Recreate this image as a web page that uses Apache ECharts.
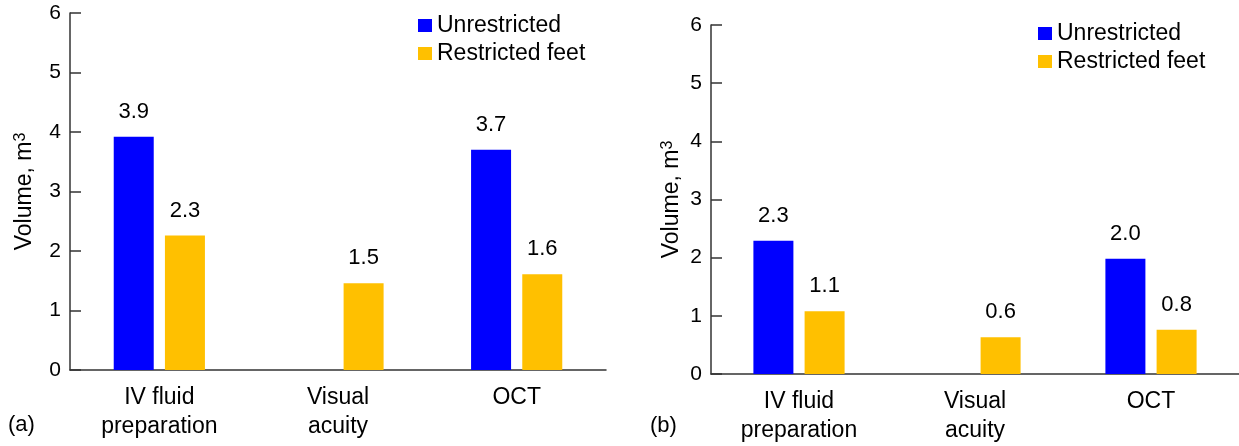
<!DOCTYPE html>
<html><head><meta charset="utf-8">
<script src="https://cdn.jsdelivr.net/npm/echarts@6/dist/echarts.min.js"></script>
<style>html,body{margin:0;padding:0;background:#fff}#c{width:1239px;height:446px}</style>
</head><body><div id="c"></div>
<script>
const categories = ['IV fluid\npreparation', 'Visual\nacuity', 'OCT'];
const seriesNames = ['Unrestricted', 'Restricted feet'];
const unrestrictedA = [3.92, null, 3.70];
const restrictedA = [2.26, 1.46, 1.61];
const unrestrictedB = [2.29, null, 1.98];
const restrictedB = [1.08, 0.63, 0.76];
const yTicks = [0, 1, 2, 3, 4, 5, 6];
const panelLabels = ['(a)', '(b)'];

const FONT = 'Liberation Sans, Arial, sans-serif';
const BLUE = '#0000FF', GOLD = '#FFC000';
const chart = echarts.init(document.getElementById('c'), null, {renderer: 'canvas'});

function xAxis(gi) {
  return {
    type: 'category', gridIndex: gi, data: categories,
    axisLine: {lineStyle: {color: '#333', width: 1.5}},
    axisTick: {show: false},
    axisLabel: {color: '#000', fontSize: 23, fontFamily: FONT, lineHeight: 29, margin: 13}
  };
}
function yAxis(gi, gap) {
  return {
    type: 'value', gridIndex: gi, min: yTicks[0], max: yTicks[yTicks.length - 1], interval: 1,
    name: '{a|Volume, m}{s|3}', nameLocation: 'middle', nameGap: gap,
    nameTextStyle: {color: '#000', fontSize: 23, fontFamily: FONT,
      rich: {a: {fontSize: 23, fontFamily: FONT, color: '#000'},
             s: {fontSize: 16, fontFamily: FONT, color: '#000', verticalAlign: 'top', padding: [0, 0, 8, 0]}}},
    axisLine: {show: true, lineStyle: {color: '#333', width: 1.5}},
    axisTick: {show: true, inside: true, length: 11, lineStyle: {color: '#333', width: 1.5}},
    axisLabel: {color: '#000', fontSize: 21, fontFamily: FONT, margin: 9},
    splitLine: {show: false}
  };
}
function bar(name, data, gi, color) {
  return {
    type: 'bar', name: name, xAxisIndex: gi, yAxisIndex: gi, data: data,
    barWidth: 40, barGap: '28%',
    itemStyle: {color: color},
    label: {show: true, position: 'top', distance: 14, color: '#000', fontSize: 22, fontFamily: FONT,
      formatter: p => p.value == null ? '' : Number(p.value).toFixed(1)}
  };
}
function legend(left, top) {
  return {
    left: left, top: top, orient: 'vertical', icon: 'rect', itemWidth: 14, itemHeight: 13,
    itemGap: 5, data: seriesNames, selectedMode: false,
    textStyle: {color: '#000', fontSize: 23, fontFamily: FONT, padding: [0, 0, 0, 0]}
  };
}

chart.setOption({
  animation: false,
  color: [BLUE, GOLD],
  grid: [
    {left: 70, top: 13, width: 536, height: 357},
    {left: 711, top: 25, width: 528, height: 349}
  ],
  xAxis: [xAxis(0), xAxis(1)],
  yAxis: [yAxis(0, 33), yAxis(1, 27)],
  legend: [legend(413, 9), legend(1033, 17)],
  series: [
    bar(seriesNames[0], unrestrictedA, 0, BLUE),
    bar(seriesNames[1], restrictedA, 0, GOLD),
    bar(seriesNames[0], unrestrictedB, 1, BLUE),
    bar(seriesNames[1], restrictedB, 1, GOLD)
  ],
  graphic: [
    {type: 'text', left: 8, top: 414, style: {text: panelLabels[0], fill: '#000', font: '22px ' + FONT}},
    {type: 'text', left: 650, top: 415, style: {text: panelLabels[1], fill: '#000', font: '22px ' + FONT}}
  ]
});
</script></body></html>
